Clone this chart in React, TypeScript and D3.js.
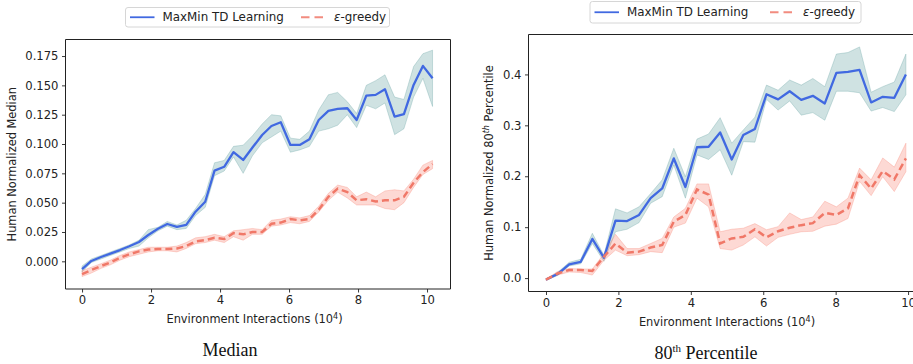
import { useEffect, useRef } from 'react';
import * as d3 from 'd3';

// ---- Median panel (left) ----
const medianSteps = [0, 0.27, 0.55, 0.82, 1.10, 1.37, 1.65, 1.92, 2.20, 2.47, 2.75, 3.02, 3.29, 3.57, 3.84, 4.12, 4.39, 4.67, 4.94,
  5.22, 5.49, 5.76, 6.04, 6.31, 6.59, 6.86, 7.14, 7.41, 7.69, 7.96, 8.24, 8.51, 8.78, 9.06, 9.33, 9.61, 9.88, 10.16];
const medianMaxMin = [-0.0066, 0.0003, 0.0037, 0.0065, 0.0096, 0.0128, 0.0165, 0.0224, 0.0278, 0.0318, 0.0293, 0.031, 0.0423, 0.0508,
  0.0773, 0.0806, 0.093, 0.0864, 0.097, 0.1077, 0.1154, 0.1186, 0.0992, 0.0992, 0.104, 0.1205, 0.1282, 0.1299, 0.1305, 0.1205,
  0.1413, 0.1419, 0.1467, 0.1233, 0.1254, 0.1504, 0.1666, 0.1561];
const medianMaxMinHi = [-0.004, 0.002, 0.005, 0.008, 0.011, 0.014, 0.018, 0.027, 0.029, 0.034, 0.031, 0.035, 0.045, 0.057,
  0.084, 0.086, 0.098, 0.099, 0.107, 0.117, 0.125, 0.124, 0.105, 0.104, 0.111, 0.129, 0.142, 0.144, 0.136, 0.126,
  0.150, 0.154, 0.159, 0.140, 0.138, 0.166, 0.177, 0.180];
const medianMaxMinLo = [-0.009, -0.001, 0.002, 0.005, 0.008, 0.011, 0.013, 0.020, 0.026, 0.030, 0.027, 0.028, 0.039, 0.046,
  0.073, 0.077, 0.089, 0.075, 0.090, 0.101, 0.106, 0.111, 0.093, 0.095, 0.098, 0.111, 0.113, 0.116, 0.125, 0.114,
  0.133, 0.130, 0.135, 0.108, 0.113, 0.140, 0.156, 0.132];
const medianGreedy = [-0.011, -0.0074, -0.004, -0.001, 0.003, 0.006, 0.0085, 0.010, 0.0105, 0.0105, 0.011, 0.013, 0.017, 0.018,
  0.020, 0.019, 0.024, 0.023, 0.025, 0.025, 0.032, 0.033, 0.036, 0.035, 0.036, 0.044, 0.055, 0.062, 0.059, 0.052,
  0.053, 0.051, 0.052, 0.052, 0.055, 0.067, 0.076, 0.083];
const medianGreedyHi = [-0.008, -0.005, -0.002, 0.001, 0.005, 0.008, 0.010, 0.012, 0.012, 0.012, 0.013, 0.016, 0.020, 0.021,
  0.023, 0.021, 0.026, 0.027, 0.028, 0.027, 0.035, 0.036, 0.038, 0.037, 0.039, 0.047, 0.058, 0.065, 0.063, 0.055,
  0.059, 0.055, 0.060, 0.061, 0.060, 0.070, 0.082, 0.086];
const medianGreedyLo = [-0.013, -0.010, -0.006, -0.003, 0.001, 0.004, 0.006, 0.008, 0.009, 0.009, 0.008, 0.011, 0.015, 0.016,
  0.018, 0.016, 0.021, 0.018, 0.023, 0.023, 0.030, 0.031, 0.033, 0.032, 0.034, 0.042, 0.052, 0.059, 0.054, 0.048,
  0.048, 0.048, 0.045, 0.044, 0.050, 0.063, 0.074, 0.079];
const medianYTicks = [0, 0.025, 0.05, 0.075, 0.1, 0.125, 0.15, 0.175];

// ---- 80th percentile panel (right) ----
const pctSteps = [0, 0.32, 0.64, 0.96, 1.28, 1.60, 1.92, 2.24, 2.57, 2.89, 3.21, 3.53, 3.85, 4.17, 4.49, 4.81,
  5.13, 5.45, 5.77, 6.09, 6.41, 6.73, 7.05, 7.37, 7.70, 8.02, 8.34, 8.66, 8.98, 9.30, 9.62, 9.94];
const pctMaxMin = [-0.003, 0.008, 0.027, 0.032, 0.077, 0.040, 0.113, 0.112, 0.124, 0.157, 0.176, 0.235, 0.179, 0.257, 0.258, 0.286,
  0.233, 0.281, 0.293, 0.361, 0.351, 0.367, 0.350, 0.358, 0.343, 0.403, 0.405, 0.409, 0.345, 0.356, 0.354, 0.400];
const pctMaxMinHi = [-0.002, 0.011, 0.031, 0.037, 0.088, 0.045, 0.136, 0.128, 0.140, 0.166, 0.193, 0.255, 0.199, 0.273, 0.283, 0.315,
  0.265, 0.291, 0.316, 0.379, 0.369, 0.389, 0.379, 0.392, 0.376, 0.440, 0.443, 0.454, 0.365, 0.376, 0.385, 0.440];
const pctMaxMinLo = [-0.004, 0.005, 0.024, 0.028, 0.068, 0.033, 0.091, 0.096, 0.109, 0.147, 0.160, 0.222, 0.157, 0.242, 0.233, 0.252,
  0.202, 0.268, 0.267, 0.351, 0.330, 0.348, 0.320, 0.325, 0.310, 0.367, 0.367, 0.364, 0.328, 0.335, 0.327, 0.360];
const pctGreedy = [-0.003, 0.009, 0.016, 0.016, 0.014, 0.042, 0.068, 0.050, 0.052, 0.060, 0.065, 0.111, 0.124, 0.174, 0.164, 0.068,
  0.078, 0.081, 0.096, 0.080, 0.092, 0.099, 0.104, 0.108, 0.128, 0.124, 0.137, 0.202, 0.176, 0.210, 0.194, 0.235];
const pctGreedyHi = [-0.002, 0.013, 0.019, 0.018, 0.018, 0.048, 0.086, 0.058, 0.058, 0.068, 0.078, 0.120, 0.137, 0.185, 0.185, 0.091,
  0.096, 0.098, 0.107, 0.095, 0.101, 0.128, 0.115, 0.120, 0.151, 0.140, 0.157, 0.216, 0.193, 0.236, 0.218, 0.265];
const pctGreedyLo = [-0.004, 0.006, 0.012, 0.011, 0.006, 0.035, 0.055, 0.044, 0.046, 0.052, 0.050, 0.100, 0.108, 0.157, 0.140, 0.058,
  0.055, 0.065, 0.081, 0.063, 0.080, 0.086, 0.091, 0.092, 0.102, 0.106, 0.117, 0.190, 0.162, 0.199, 0.170, 0.209];
const pctYTicks = [0, 0.1, 0.2, 0.3, 0.4];

const xTicks = [0, 2, 4, 6, 8, 10];
const seriesNames = ['MaxMin TD Learning', 'greedy'];

const BLUE = '#4169e1';
const BAND_BLUE = '#5f9ea0';
const RED = '#f07868';
const BAND_RED = '#fa8072';
const FONT = '"DejaVu Sans", sans-serif';

type Panel = {
  box: { l: number; r: number; t: number; b: number };
  xDomain: [number, number];
  yDomain: [number, number];
  yTicks: number[];
  yFmt: string;
  steps: number[];
  blue: number[]; blueHi: number[]; blueLo: number[];
  red: number[]; redHi: number[]; redLo: number[];
  rightSpine: boolean;
  yLabelX: number;
  xLabelY: number;
  pct: boolean;
  legend: { x: number; y: number; w: number; h: number; redX: number };
  caption: { x: number; y: number };
};

function drawPanel(root: d3.Selection<SVGSVGElement, unknown, null, undefined>, p: Panel) {
  const { l, r, t, b } = p.box;
  const x = d3.scaleLinear().domain(p.xDomain).range([l, r]);
  const y = d3.scaleLinear().domain(p.yDomain).range([b, t]);
  const g = root.append('g');

  const clipId = 'clip' + Math.round(l);
  g.append('clipPath').attr('id', clipId).append('rect')
    .attr('x', l).attr('y', t).attr('width', r - l).attr('height', b - t);
  const plot = g.append('g').attr('clip-path', `url(#${clipId})`);

  const idx = p.steps.map((_, i) => i);
  const band = (hi: number[], lo: number[]) => d3.area<number>()
    .x(i => x(p.steps[i])).y0(i => y(lo[i])).y1(i => y(hi[i]))(idx);
  const line = (v: number[]) => d3.line<number>().x(i => x(p.steps[i])).y(i => y(v[i]))(idx);

  plot.append('path').attr('d', band(p.blueHi, p.blueLo))
    .attr('fill', BAND_BLUE).attr('fill-opacity', 0.3)
    .attr('stroke', BAND_BLUE).attr('stroke-opacity', 0.3).attr('stroke-width', 1);
  plot.append('path').attr('d', band(p.redHi, p.redLo))
    .attr('fill', BAND_RED).attr('fill-opacity', 0.3)
    .attr('stroke', BAND_RED).attr('stroke-opacity', 0.3).attr('stroke-width', 1);
  plot.append('path').attr('d', line(p.blue))
    .attr('fill', 'none').attr('stroke', BLUE).attr('stroke-width', 2.3).attr('stroke-linejoin', 'round');
  plot.append('path').attr('d', line(p.red))
    .attr('fill', 'none').attr('stroke', RED).attr('stroke-width', 2.5)
    .attr('stroke-dasharray', '7,4');

  // axes
  const ax = g.append('g').attr('transform', `translate(0,${b})`)
    .call(d3.axisBottom(x).tickValues(xTicks).tickFormat(d3.format('d')).tickSize(3.5).tickPadding(3.5));
  const ay = g.append('g').attr('transform', `translate(${l},0)`)
    .call(d3.axisLeft(y).tickValues(p.yTicks).tickFormat(d3.format(p.yFmt)).tickSize(3.5).tickPadding(3.5));
  [ax, ay].forEach(a => {
    a.select('.domain').remove();
    a.selectAll('.tick line').attr('stroke', '#222').attr('stroke-width', 0.9);
    a.selectAll('.tick text').attr('fill', '#222').style('font-family', FONT).style('font-size', '11.6px');
  });

  // spines
  const sp = g.append('g').attr('stroke', '#222').attr('stroke-width', 1).attr('fill', 'none');
  sp.append('line').attr('x1', l).attr('x2', l).attr('y1', t).attr('y2', b);
  sp.append('line').attr('x1', l).attr('x2', r).attr('y1', b).attr('y2', b);
  sp.append('line').attr('x1', l).attr('x2', r).attr('y1', t).attr('y2', t);
  if (p.rightSpine) sp.append('line').attr('x1', r).attr('x2', r).attr('y1', t).attr('y2', b);

  // axis labels
  const xl = g.append('text').attr('x', x(5)).attr('y', p.xLabelY).attr('text-anchor', 'middle')
    .attr('fill', '#222').style('font-family', FONT).style('font-size', '11.4px');
  xl.append('tspan').text('Environment Interactions (10');
  xl.append('tspan').attr('dy', -4.5).style('font-size', '8px').text('4');
  xl.append('tspan').attr('dy', 4.5).text(')');

  const yl = g.append('text')
    .attr('transform', `translate(${p.yLabelX},${(t + b) / 2}) rotate(-90)`)
    .attr('text-anchor', 'middle').attr('fill', '#222')
    .style('font-family', FONT).style('font-size', '11.4px');
  if (p.pct) {
    yl.append('tspan').text('Human Normalized 80');
    yl.append('tspan').attr('dy', -4.5).style('font-size', '8px').style('font-style', 'italic').text('th');
    yl.append('tspan').attr('dy', 4.5).text(' Percentile');
  } else {
    yl.append('tspan').text('Human Normalized Median');
  }

  // legend
  const lg = p.legend;
  const leg = root.append('g');
  leg.append('rect').attr('x', lg.x).attr('y', lg.y).attr('width', lg.w).attr('height', lg.h)
    .attr('rx', 2.5).attr('fill', '#fff').attr('stroke', '#d6d6d6').attr('stroke-width', 1);
  const cy = lg.y + lg.h / 2;
  leg.append('line').attr('x1', lg.x + 4.5).attr('x2', lg.x + 29).attr('y1', cy).attr('y2', cy)
    .attr('stroke', BLUE).attr('stroke-width', 1.8);
  leg.append('text').attr('x', lg.x + 37).attr('y', cy + 4.2).attr('fill', '#222')
    .style('font-family', FONT).style('font-size', '11.9px').text(seriesNames[0]);
  leg.append('line').attr('x1', lg.redX).attr('x2', lg.redX + 22).attr('y1', cy).attr('y2', cy)
    .attr('stroke', RED).attr('stroke-opacity', 0.85).attr('stroke-width', 1.8).attr('stroke-dasharray', '8.5,5');
  const et = leg.append('text').attr('x', lg.redX + 33).attr('y', cy + 4.2).attr('fill', '#222')
    .style('font-family', FONT).style('font-size', '11.9px');
  et.append('tspan').style('font-style', 'italic').text('ε');
  et.append('tspan').text('-' + seriesNames[1]);

  // caption
  const cap = root.append('text').attr('x', p.caption.x).attr('y', p.caption.y).attr('text-anchor', 'middle')
    .attr('fill', '#111').style('font-family', '"Liberation Serif", "Times New Roman", serif').style('font-size', '18px');
  if (p.pct) {
    cap.append('tspan').text('80');
    cap.append('tspan').attr('dy', -7).style('font-size', '11px').text('th');
    cap.append('tspan').attr('dy', 7).text(' Percentile');
  } else {
    cap.text('Median');
  }
}

export default function App() {
  const ref = useRef<SVGSVGElement>(null);

  useEffect(() => {
    const svg = d3.select(ref.current as SVGSVGElement);
    svg.selectAll('*').remove();

    drawPanel(svg, {
      box: { l: 65.5, r: 450.5, t: 39.5, b: 289 },
      xDomain: [-0.48, 10.68],
      yDomain: [-0.0236, 0.1891],
      yTicks: medianYTicks,
      yFmt: '.3f',
      steps: medianSteps,
      blue: medianMaxMin, blueHi: medianMaxMinHi, blueLo: medianMaxMinLo,
      red: medianGreedy, redHi: medianGreedyHi, redLo: medianGreedyLo,
      rightSpine: true,
      yLabelX: 16,
      xLabelY: 323,
      pct: false,
      legend: { x: 125.5, y: 7.5, w: 264, h: 19.5, redX: 301 },
      caption: { x: 230, y: 356 },
    });

    drawPanel(svg, {
      box: { l: 528.5, r: 924, t: 34.5, b: 291.5 },
      xDomain: [-0.483, 10.44],
      yDomain: [-0.0263, 0.4784],
      yTicks: pctYTicks,
      yFmt: '.1f',
      steps: pctSteps,
      blue: pctMaxMin, blueHi: pctMaxMinHi, blueLo: pctMaxMinLo,
      red: pctGreedy, redHi: pctGreedyHi, redLo: pctGreedyLo,
      rightSpine: false,
      yLabelX: 493,
      xLabelY: 326,
      pct: true,
      legend: { x: 590, y: 1.5, w: 271, h: 21.5, redX: 770 },
      caption: { x: 706, y: 359 },
    });
  }, []);

  return (
    <svg ref={ref} width={913} height={364}
      style={{ position: 'absolute', left: 0, top: 0, background: '#fff', display: 'block' }} />
  );
}
